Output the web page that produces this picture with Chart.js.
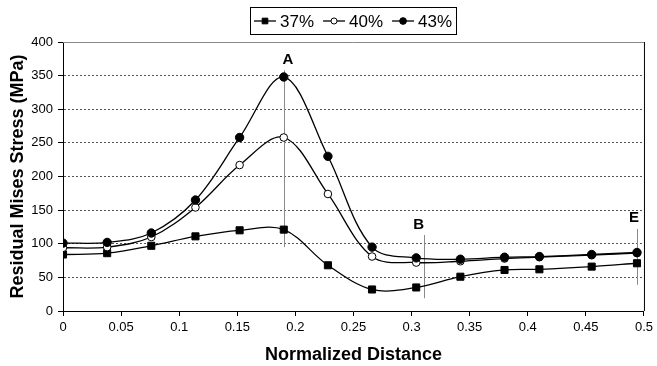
<!DOCTYPE html>
<html lang="en">
<head>
    <meta charset="UTF-8">
    <title>Residual Mises Stress</title>
    <style>
        body {
            margin: 0;
            background-color: #fff;
        }
        #chart-container {
            width: 657px;
            height: 366px;
        }
    </style>
</head>
<body>
    <div id="chart-container">
        <canvas id="stress-chart" width="657" height="366"></canvas>
    </div>

    <script src="https://cdn.jsdelivr.net/npm/chart.js"></script>
    <script>
        // values
        const xValues = [0, 0.038, 0.076, 0.114, 0.152, 0.19, 0.228, 0.266, 0.304, 0.342, 0.38, 0.41, 0.455, 0.494];
        const stress37 = [84, 86, 97, 111, 120, 121, 68, 32, 35, 51, 61, 62, 66, 71];
        const stress40 = [94, 95, 110, 154, 217, 258, 174, 81, 72, 74, 78, 80, 83, 86];
        const stress43 = [101, 102, 116, 165, 258, 348, 230, 95, 79, 77, 80, 81, 84, 87];
        const seriesLabels = ['37%', '40%', '43%'];

        const xTickValues = [0, 0.05, 0.1, 0.15, 0.2, 0.25, 0.3, 0.35, 0.4, 0.45, 0.5];
        const xTickLabels = ['0', '0.05', '0.1', '0.15', '0.2', '0.25', '0.3', '0.35', '0.4', '0.45', '0.5'];

        // marker lines A, B, E
        const markLabels = ['A', 'B', 'E'];
        const markX = [0.19, 0.311, 0.494];
        const markTop = [358, 113, 122];
        const markBottom = [95, 19, 39];
        const markLabelX = [0.1935, 0.306, 0.4915];
        const markLabelY = [373, 128, 138];

        const FONT = '"Liberation Sans", Arial, sans-serif';

        function toPoints(ys) {
            return xValues.map((x, i) => ({ x: x, y: ys[i] }));
        }

        const styles = [
            { pointStyle: 'rect', radius: 5, fill: '#000', order: 3 },
            { pointStyle: 'circle', radius: 3.8, fill: '#fff', order: 2 },
            { pointStyle: 'circle', radius: 4.2, fill: '#000', order: 1 }
        ];

        const datasets = [stress37, stress40, stress43].map((ys, i) => ({
            label: seriesLabels[i],
            data: toPoints(ys),
            showLine: true,
            borderColor: '#000',
            borderWidth: 1.3,
            tension: 0.35,
            pointStyle: styles[i].pointStyle,
            pointRadius: styles[i].radius,
            pointBackgroundColor: styles[i].fill,
            pointBorderColor: '#000',
            pointBorderWidth: 1,
            order: styles[i].order
        }));

        // frame, marker lines and the boxed legend
        const extrasPlugin = {
            id: 'extras',
            beforeDatasetsDraw(chart) {
                const { ctx, chartArea, scales } = chart;
                ctx.save();
                // top gray line and right black line
                ctx.strokeStyle = '#888';
                ctx.lineWidth = 1;
                ctx.beginPath();
                ctx.moveTo(chartArea.left, chartArea.top + 0.5);
                ctx.lineTo(chartArea.right, chartArea.top + 0.5);
                ctx.stroke();
                ctx.strokeStyle = '#000';
                ctx.beginPath();
                ctx.moveTo(chartArea.right + 0.5, chartArea.top);
                ctx.lineTo(chartArea.right + 0.5, chartArea.bottom);
                ctx.stroke();

                ctx.strokeStyle = '#8a8a8a';
                ctx.fillStyle = '#000';
                ctx.font = 'bold 15px ' + FONT;
                ctx.textAlign = 'center';
                ctx.textBaseline = 'middle';
                markLabels.forEach((lab, i) => {
                    const px = Math.round(scales.x.getPixelForValue(markX[i])) + 0.5;
                    ctx.beginPath();
                    ctx.moveTo(px, scales.y.getPixelForValue(markTop[i]));
                    ctx.lineTo(px, scales.y.getPixelForValue(markBottom[i]));
                    ctx.stroke();
                    ctx.fillText(lab, scales.x.getPixelForValue(markLabelX[i]), scales.y.getPixelForValue(markLabelY[i]));
                });
                ctx.restore();
            },
            afterDraw(chart) {
                const { ctx, chartArea } = chart;
                ctx.save();
                ctx.font = '17px ' + FONT;
                const lineLen = 22, gapText = 4, gapItem = 9, pad = 4;
                const widths = seriesLabels.map(t => ctx.measureText(t).width);
                let total = pad * 2;
                widths.forEach((w, i) => { total += lineLen + gapText + w + (i < widths.length - 1 ? gapItem : 0); });
                const boxTop = 7, boxH = 27;
                const cx = (chartArea.left + chartArea.right) / 2;
                let x = Math.round(cx - total / 2);
                ctx.strokeStyle = '#000';
                ctx.lineWidth = 1;
                ctx.strokeRect(x + 0.5, boxTop + 0.5, Math.round(total), boxH);
                const midY = boxTop + boxH / 2 + 0.5;
                x += pad;
                chart.data.datasets.forEach((ds, i) => {
                    ctx.strokeStyle = '#000';
                    ctx.lineWidth = 1.3;
                    ctx.beginPath();
                    ctx.moveTo(x, midY);
                    ctx.lineTo(x + lineLen, midY);
                    ctx.stroke();
                    ctx.fillStyle = ds.pointBackgroundColor;
                    ctx.strokeStyle = '#000';
                    ctx.lineWidth = 1;
                    Chart.helpers.drawPoint(ctx, {
                        pointStyle: ds.pointStyle,
                        radius: ds.pointRadius * 0.8,
                        rotation: 0,
                        borderWidth: 1
                    }, x + lineLen / 2, midY);
                    x += lineLen + gapText;
                    ctx.fillStyle = '#000';
                    ctx.textAlign = 'left';
                    ctx.textBaseline = 'middle';
                    ctx.fillText(seriesLabels[i], x, midY + 1);
                    x += widths[i] + gapItem;
                });
                ctx.restore();
            }
        };

        const ctx = document.getElementById('stress-chart').getContext('2d');
        const stressChart = new Chart(ctx, {
            type: 'scatter',
            data: { datasets: datasets },
            options: {
                responsive: false,
                animation: false,
                layout: { padding: { top: 42, right: 10, left: 0, bottom: 0 } },
                plugins: {
                    legend: { display: false },
                    tooltip: { enabled: false }
                },
                scales: {
                    x: {
                        type: 'linear',
                        min: 0,
                        max: 0.5,
                        afterFit: s => { s.height = 55; },
                        afterBuildTicks: s => { s.ticks = xTickValues.map(v => ({ value: v })); },
                        ticks: {
                            callback: (v, i) => xTickLabels[i],
                            color: '#000',
                            font: { family: FONT, size: 13 },
                            padding: 4,
                            maxRotation: 0,
                            autoSkip: false
                        },
                        grid: {
                            drawOnChartArea: false,
                            drawTicks: true,
                            tickLength: 5,
                            tickColor: '#000'
                        },
                        border: { color: '#000', width: 1 },
                        title: {
                            display: true,
                            text: 'Normalized Distance',
                            color: '#000',
                            font: { family: FONT, size: 18, weight: 'bold' },
                            padding: { top: 0, bottom: 0 }
                        }
                    },
                    y: {
                        min: 0,
                        max: 400,
                        afterFit: s => { s.width = 63; },
                        ticks: {
                            stepSize: 50,
                            color: '#000',
                            font: { family: FONT, size: 13 },
                            padding: 5
                        },
                        grid: {
                            color: ctx => (ctx.tick && (ctx.tick.value === 0 || ctx.tick.value === 400)) ? 'rgba(0,0,0,0)' : '#555',
                            tickColor: '#000',
                            tickBorderDash: [],
                            tickLength: 5
                        },
                        border: { color: '#000', width: 1, dash: [2, 2] },
                        title: {
                            display: true,
                            text: 'Residual Mises Stress (MPa)',
                            color: '#000',
                            font: { family: FONT, size: 18, weight: 'bold' },
                            padding: { top: 7, bottom: 0 }
                        }
                    }
                }
            },
            plugins: [extrasPlugin]
        });
    </script>
</body>
</html>
